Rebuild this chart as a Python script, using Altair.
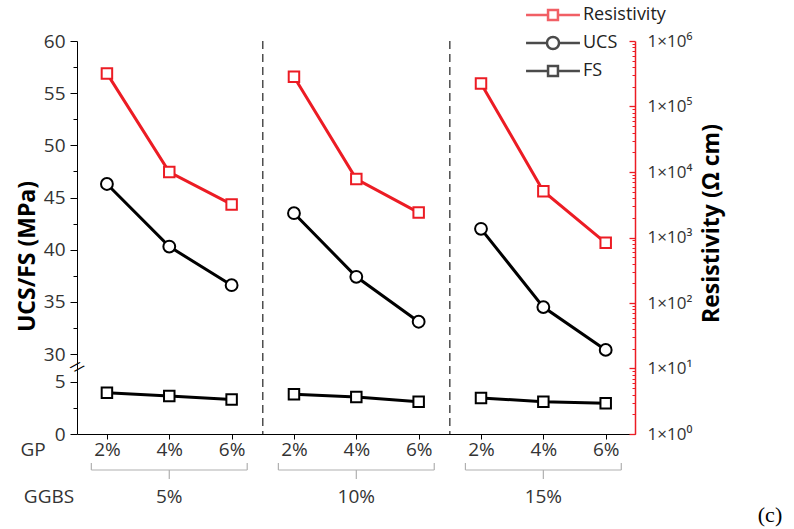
import json
import altair as alt
import pandas as pd

# ---------------- data ----------------
gp_labels = ["2%", "4%", "6%"]
ggbs_labels = ["5%", "10%", "15%"]
ucs = [46.3, 40.3, 36.6, 43.5, 37.4, 33.1, 42.0, 34.5, 30.4]
fs = [3.95, 3.65, 3.3, 3.8, 3.55, 3.1, 3.45, 3.1, 2.95]
resistivity = [3.2e5, 1.0e4, 3.2e3, 2.85e5, 7.8e3, 2.4e3, 2.25e5, 5.1e3, 8.3e2]
series_names = ["Resistivity", "UCS", "FS"]

RED = "#ec1c24"
FONT = "Open Sans"
LFS = 19  # tick label font size
TFS = 23  # axis title font size

# broken axis: 0-5 then 30-60
LO, HI, GAP = 5.0, 30.0, 2.66
SHIFT = HI - LO - GAP


def disp(v):
    return v if v <= LO else v - SHIFT


idx = list(range(9))
rows = []
for i in idx:
    g = i // 3
    rows.append({"idx": i, "series": "UCS", "line": f"UCS{g}", "value": ucs[i], "disp": disp(ucs[i])})
    rows.append({"idx": i, "series": "FS", "line": f"FS{g}", "value": fs[i], "disp": disp(fs[i])})
uf = pd.DataFrame(rows)
res = pd.DataFrame({"idx": idx, "res": resistivity, "line": [f"R{i // 3}" for i in idx]})

W, H = 558, 393
XDOM = [-0.48, 8.47]
YDOM = [0, disp(60)]
RDOM = [1, 1e6]

x_enc = alt.X("idx:Q", scale=alt.Scale(domain=XDOM, nice=False, zero=False),
              axis=alt.Axis(values=idx, labelExpr=f"{json.dumps(gp_labels)}[datum.value % 3]",
                            title=None, grid=False, tickSize=5, tickColor="black",
                            domainColor="black", labelFontSize=LFS, labelColor="#333",
                            labelFont=FONT, labelPadding=1))
x_plain = alt.X("idx:Q", scale=alt.Scale(domain=XDOM, nice=False, zero=False))

ysc = alt.Scale(domain=YDOM, nice=False, zero=False)
rsc = alt.Scale(type="log", domain=RDOM, nice=False)

major_left = [0, 5] + [disp(v) for v in range(30, 61, 5)]
minor_left = [2.5] + [disp(v + 2.5) for v in range(30, 60, 5)]

left_axis = alt.Axis(orient="left", values=major_left,
                     labelExpr=f"datum.value <= {LO + 0.01} ? format(datum.value, 'd') : format(datum.value + {SHIFT}, 'd')",
                     title="UCS/FS (MPa)", titleFontSize=TFS, titleFont=FONT, titleFontWeight="bold",
                     titleColor="black", titlePadding=4, titleY=215, grid=False, tickSize=7,
                     tickColor="black", domainColor="black", labelFontSize=LFS, labelColor="#333",
                     labelFont=FONT, labelPadding=5)
left_minor = alt.Axis(orient="left", values=minor_left, labels=False, domain=False, title=None,
                      grid=False, tickSize=4, tickColor="black")

sup = ["⁰", "¹", "²", "³", "⁴", "⁵", "⁶"]
major_right = [10 ** k for k in range(7)]
minor_right = [m * 10 ** k for k in range(6) for m in range(2, 10)]
right_axis = alt.Axis(orient="right", values=major_right,
                      labelExpr=f"'1×10' + {json.dumps(sup, ensure_ascii=False)}[round(log(datum.value)/LN10)]",
                      title="Resistivity (Ω cm)", titleFontSize=TFS, titleFont=FONT, titleFontWeight="bold",
                      titleColor="black", titleAngle=270, titleBaseline="top", titlePadding=9, titleY=182,
                      grid=False, ticks=False, tickSize=0, domainColor=RED, domainWidth=1.5,
                      labelFontSize=17, labelColor="#333", labelFont=FONT, labelPadding=12)
right_major_ticks = alt.Axis(orient="right", values=major_right, labels=False, domain=False, title=None,
                             grid=False, tickSize=6, tickColor=RED, tickWidth=1.3, offset=-6)
right_minor_ticks = alt.Axis(orient="right", values=minor_right, labels=False, domain=False, title=None,
                             grid=False, tickSize=3, tickColor=RED, offset=-3)

base_uf = alt.Chart(uf)
line_uf = base_uf.mark_line(color="black", strokeWidth=3).encode(
    x=x_enc, y=alt.Y("disp:Q", scale=ysc, axis=left_axis), detail="line:N")
pts_ucs = base_uf.transform_filter("datum.series == 'UCS'").mark_point(
    shape="circle", size=140, filled=True, fill="white", stroke="black", strokeWidth=2, opacity=1
).encode(x=x_plain, y=alt.Y("disp:Q", scale=ysc, axis=left_minor))
pts_fs = base_uf.transform_filter("datum.series == 'FS'").mark_point(
    shape="square", size=110, filled=True, fill="white", stroke="black", strokeWidth=2, opacity=1
).encode(x=x_plain, y=alt.Y("disp:Q", scale=ysc, axis=None))

base_r = alt.Chart(res)
line_r = base_r.mark_line(color=RED, strokeWidth=3).encode(
    x=x_plain, y=alt.Y("res:Q", scale=rsc, axis=right_axis), detail="line:N")
pts_r = base_r.mark_point(
    shape="square", size=110, filled=True, fill="white", stroke=RED, strokeWidth=2, opacity=1
).encode(x=x_plain, y=alt.Y("res:Q", scale=rsc, axis=right_major_ticks))

# legend (symbols built as line + marker paths)
sq_path = "M-4.9,0L-0.9,0M0.9,0L4.9,0M-0.9,-0.9L0.9,-0.9L0.9,0.9L-0.9,0.9Z"
ci_path = "M-4.9,0L-1.1,0M1.1,0L4.9,0M-1.1,0A1.1,1.1,0,1,1,1.1,0A1.1,1.1,0,1,1,-1.1,0Z"
leg = alt.Legend(orient="none", legendX=467, legendY=-35, title=None, labelFontSize=18,
                 labelFont=FONT, labelColor="#222", symbolSize=121, symbolStrokeWidth=2.5,
                 labelOffset=21, rowPadding=6, padding=0, symbolFillColor="white")
legend_df = pd.DataFrame({"series": series_names, "res": [1.0, 1.0, 1.0]})
legend_layer = alt.Chart(legend_df).transform_filter("false").mark_point(filled=False, strokeWidth=2.5).encode(
    x=x_plain,
    y=alt.Y("res:Q", scale=rsc, axis=right_minor_ticks),
    color=alt.Color("series:N", scale=alt.Scale(domain=series_names, range=[RED, "black", "black"]), legend=leg),
    shape=alt.Shape("series:N", scale=alt.Scale(domain=series_names, range=[sq_path, ci_path, sq_path]), legend=leg),
)

# group dividers
div_df = pd.DataFrame({"idx": [2.5, 5.5]})
dividers = alt.Chart(div_df).mark_rule(color="#333", strokeDash=[8, 5], strokeWidth=1.3).encode(x=x_plain)

# axis break mark
brk = alt.Chart(pd.DataFrame({"idx": [XDOM[0]], "disp": [6.4], "t": ["//"]})).mark_text(
    fontSize=15, angle=40, color="black", font=FONT).encode(
    x=x_plain, y=alt.Y("disp:Q", scale=ysc, axis=None), text="t:N")

# GGBS braces and labels
groups = pd.DataFrame({
    "start": [g * 3 - 0.25 for g in range(3)],
    "end": [g * 3 + 2.25 for g in range(3)],
    "mid": [g * 3 + 1 for g in range(3)],
    "label": ggbs_labels,
})
bc = alt.Chart(groups)
xs = alt.Scale(domain=XDOM, nice=False, zero=False)
BR = dict(color="#b0b0b0", strokeWidth=1.2)
brace_h = bc.mark_rule(**BR).encode(x=alt.X("start:Q", scale=xs), x2="end:Q", y=alt.value(429))
brace_l = bc.mark_rule(**BR).encode(x=alt.X("start:Q", scale=xs), y=alt.value(422), y2=alt.value(429))
brace_r = bc.mark_rule(**BR).encode(x=alt.X("end:Q", scale=xs), y=alt.value(422), y2=alt.value(429))
brace_m = bc.mark_rule(**BR).encode(x=alt.X("mid:Q", scale=xs), y=alt.value(429), y2=alt.value(438))
glabels = bc.mark_text(fontSize=LFS, color="#333", font=FONT).encode(
    x=alt.X("mid:Q", scale=xs), y=alt.value(456), text="label:N")

side_txt = alt.Chart(pd.DataFrame({"t": ["GP"]})).mark_text(
    fontSize=LFS, color="#333", font=FONT).encode(x=alt.value(-44), y=alt.value(409), text="t:N")
side_txt2 = alt.Chart(pd.DataFrame({"t": ["GGBS"]})).mark_text(
    fontSize=LFS, color="#333", font=FONT).encode(x=alt.value(-28), y=alt.value(456), text="t:N")
cap = alt.Chart(pd.DataFrame({"t": ["(c)"]})).mark_text(
    fontSize=22, color="black", font="Liberation Serif").encode(x=alt.value(693), y=alt.value(474), text="t:N")

chart = alt.layer(
    dividers, line_uf, line_r, pts_ucs, pts_fs, pts_r, legend_layer, brk,
    brace_h, brace_l, brace_r, brace_m, glabels, side_txt, side_txt2, cap,
).resolve_scale(y="independent").properties(
    width=W, height=H,
    autosize=alt.AutoSizeParams(type="none"),
    padding={"left": 77, "top": 41, "right": 159, "bottom": 95},
    background="white",
).configure_view(stroke=None)

chart.save("out.html", embed_options={"renderer": "svg", "actions": False})
